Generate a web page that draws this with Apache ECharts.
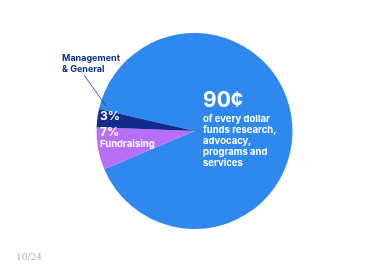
<!DOCTYPE html>
<html><head><meta charset="utf-8">
<script src="https://cdn.jsdelivr.net/npm/echarts@6/dist/echarts.min.js"></script>
<style>html,body{margin:0;padding:0;background:#fff}#c{width:370px;height:268px}</style>
</head><body><div id="c"></div>
<script>
const categories = ['Research, advocacy, programs and services', 'Fundraising', 'Management & General'];
const values = [90, 7, 3];
const sliceColors = ['#2F88EE', '#B66FF6', '#102C8F'];
const bigLabel = '90¢';
const blurbLines = ['of every dollar', 'funds research,', 'advocacy,', 'programs and', 'services'];
const mgmtLines = ['Management', '& General'];
const footer = '10/24';

const FONT = 'Inter, "Noto Sans", sans-serif';
const chart = echarts.init(document.getElementById('c'), null, {renderer: 'canvas'});

const labelPos = [
  {x: 203, y: 88},
  {x: 100, y: 125},
  {x: 100, y: 109}
];

chart.setOption({
  animation: false,
  backgroundColor: '#fff',
  title: {
    text: footer, left: 11, top: 248,
    textStyle: {fontFamily: '"DejaVu Serif", "Liberation Serif", serif', fontSize: 9, fontWeight: 'normal', color: '#b0b0b0'}
  },
  graphic: [
    {type: 'line', shape: {x1: 84, y1: 75, x2: 106, y2: 106}, style: {stroke: '#102C8F', lineWidth: 0.8}, z: 100},
    {type: 'text', left: 62, top: 53, style: {
      text: mgmtLines.join('\n'), fill: '#102C8F', font: 'bold 9px ' + FONT, lineHeight: 11
    }}
  ],
  series: [{
    type: 'pie',
    center: [194.5, 131],
    radius: [0, 98],
    startAngle: 167,
    clockwise: true,
    silent: true,
    itemStyle: {borderWidth: 0},
    labelLine: {show: false},
    data: categories.map((name, i) => ({
      name, value: values[i],
      itemStyle: {color: sliceColors[i]},
      label: {
        show: true,
        position: 'inside',
        formatter: i === 0
          ? '{big|' + bigLabel + '}\n' + blurbLines.map(s => '{s|' + s + '}').join('\n')
          : (i === 1 ? '{p|' + values[i] + '%}\n{s|' + name + '}' : '{p|' + values[i] + '%}'),
        align: 'left',
        rich: {
          big: {fontFamily: FONT, fontSize: 21, fontWeight: 'bold', color: '#fff', lineHeight: 26},
          s: {fontFamily: FONT, fontSize: 9.5, fontWeight: 'bold', color: '#fff', lineHeight: 11},
          p: {fontFamily: FONT, fontSize: 12, fontWeight: 'bold', color: '#fff', lineHeight: 14}
        }
      }
    }))
  }]
});
chart.setOption({
  series: [{
    labelLayout: function (p) {
      const pos = labelPos[p.dataIndex];
      return {x: pos.x, y: pos.y, align: 'left', verticalAlign: 'top'};
    }
  }]
});
</script></body></html>
